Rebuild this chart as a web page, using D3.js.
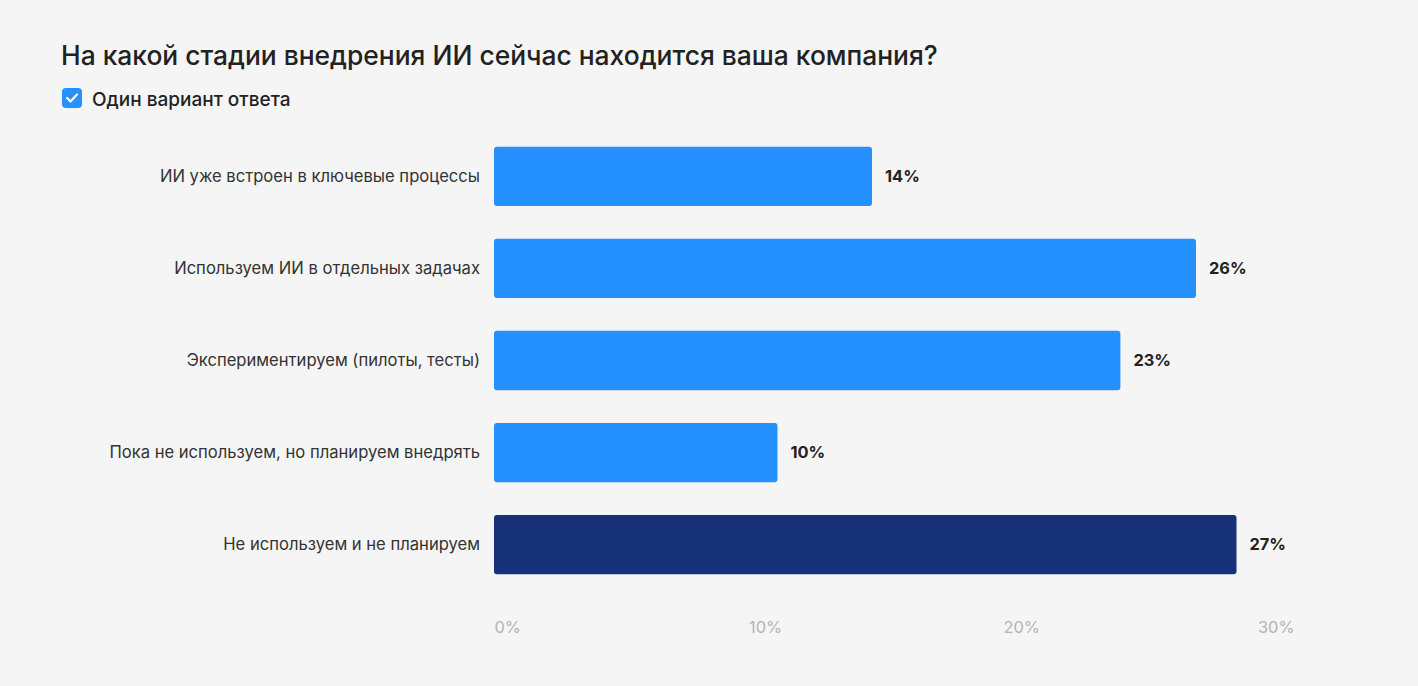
<!DOCTYPE html>
<html>
<head>
<meta charset="utf-8">
<script src="https://cdn.jsdelivr.net/npm/d3@7"></script>
<style>
  body { margin: 0; background: #f5f5f5; font-family: Inter, "Noto Sans", sans-serif; }
  svg { display: block; }
</style>
</head>
<body>
<script>
// Chart data
var categories = [
  "ИИ уже встроен в ключевые процессы",
  "Используем ИИ в отдельных задачах",
  "Экспериментируем (пилоты, тесты)",
  "Пока не используем, но планируем внедрять",
  "Не используем и не планируем"
];
var values = [14, 26, 23.2, 10.5, 27.5];
var valueLabels = ["14%", "26%", "23%", "10%", "27%"];
var tickValues = [0, 10, 20, 30];
var tickLabels = ["0%", "10%", "20%", "30%"];

var width = 1418;
var height = 686;

var svg = d3.select("body").append("svg")
    .attr("width", width)
    .attr("height", height);

svg.append("rect")
    .attr("width", width)
    .attr("height", height)
    .attr("fill", "#f5f5f5");

// Title
svg.append("text")
    .attr("x", 61)
    .attr("y", 65)
    .attr("font-size", 26.4)
    .attr("font-weight", 500)
    .attr("fill", "#222")
    .text("На какой стадии внедрения ИИ сейчас находится ваша компания?");

// Checkbox + subtitle
svg.append("rect")
    .attr("x", 62).attr("y", 88)
    .attr("width", 20).attr("height", 20)
    .attr("rx", 4)
    .attr("fill", "#2491ff");
svg.append("path")
    .attr("d", "M67 98 L70.5 101.5 L77 94.5")
    .attr("fill", "none")
    .attr("stroke", "#fff")
    .attr("stroke-width", 2.2)
    .attr("stroke-linecap", "round")
    .attr("stroke-linejoin", "round");
svg.append("text")
    .attr("x", 92)
    .attr("y", 106)
    .attr("font-size", 19)
    .attr("font-weight", 500)
    .attr("fill", "#222")
    .text("Один вариант ответа");

// Scales
var x = d3.scaleLinear().domain([0, 30]).range([494, 494 + 30 * 27]);
var xAxisScale = d3.scaleLinear().domain([0, 30]).range([494, 1257.5]);
var y = d3.scaleBand()
    .domain(categories)
    .range([131, 590])
    .paddingInner(0.355)
    .paddingOuter(0.17);

var rows = svg.selectAll(".row")
    .data(categories)
    .enter()
    .append("g")
    .attr("class", "row");

rows.append("rect")
    .attr("x", x(0))
    .attr("y", function(d) { return y(d); })
    .attr("width", function(d, i) { return x(values[i]) - x(0); })
    .attr("height", y.bandwidth())
    .attr("rx", 3)
    .attr("fill", function(d, i) { return i === categories.length - 1 ? "#163177" : "#2491ff"; });

rows.append("text")
    .attr("x", 480)
    .attr("y", function(d) { return y(d) + y.bandwidth() / 2; })
    .attr("dy", "0.35em")
    .attr("text-anchor", "end")
    .attr("font-size", 16.6)
    .attr("fill", "#333")
    .text(function(d) { return d; });

rows.append("text")
    .attr("x", function(d, i) { return x(values[i]) + 13; })
    .attr("y", function(d) { return y(d) + y.bandwidth() / 2; })
    .attr("dy", "0.35em")
    .attr("font-size", 16.4)
    .attr("font-weight", 700)
    .attr("fill", "#222")
    .text(function(d, i) { return valueLabels[i]; });

// Axis
var axis = svg.append("g")
    .attr("transform", "translate(0,620)")
    .call(d3.axisBottom(xAxisScale)
        .tickValues(tickValues)
        .tickSize(0)
        .tickFormat(function(d, i) { return tickLabels[i]; }));
axis.select(".domain").remove();
axis.selectAll("text")
    .attr("text-anchor", "start")
    .attr("dy", "0.35em")
    .attr("y", 7)
    .attr("font-size", 16.4)
    .attr("font-family", "Inter, 'Noto Sans', sans-serif")
    .attr("fill", "#b3b3b3");
</script>
</body>
</html>
